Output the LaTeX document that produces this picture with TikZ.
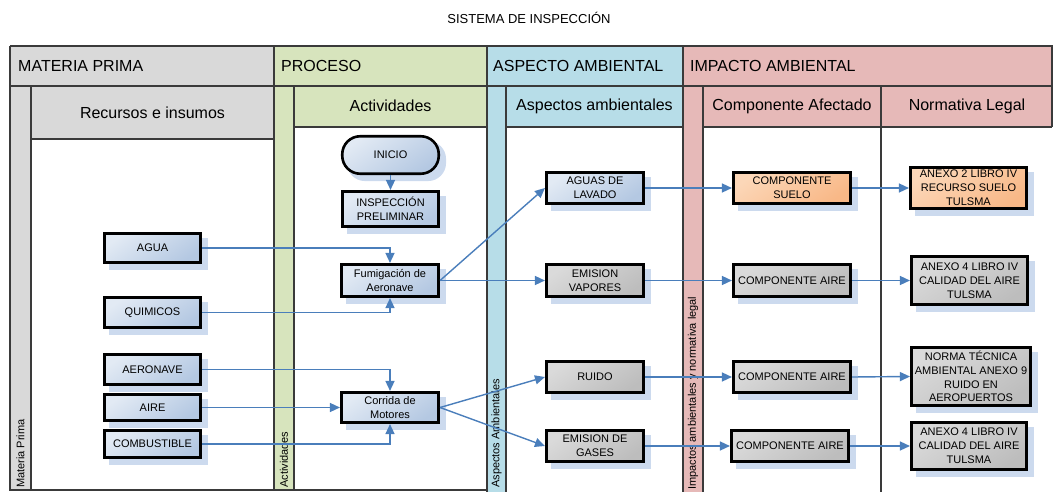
\documentclass[tikz,border=0pt]{standalone}
\usepackage{fontspec}
\setmainfont{Liberation Sans}
\usetikzlibrary{arrows.meta,shadings,calc}
\pgfdeclarelayer{bg}
\pgfdeclarelayer{shad}
\pgfsetlayers{bg,shad,main}
\definecolor{graycol}{HTML}{D9D9D9}
\definecolor{greencol}{HTML}{D7E4BD}
\definecolor{bluecol}{HTML}{B7DDE8}
\definecolor{pinkcol}{HTML}{E6B9B8}
\definecolor{framecol}{HTML}{3A3A3A}
\definecolor{arrowblue}{HTML}{4A7EBB}
\definecolor{shadowcol}{HTML}{CCDAEE}
\definecolor{blueA}{HTML}{E2EAF4}
\definecolor{blueB}{HTML}{B4C8E2}
\definecolor{grayA}{HTML}{DADADA}
\definecolor{grayB}{HTML}{BDBDBD}
\definecolor{orA}{HTML}{FCD7B8}
\definecolor{orB}{HTML}{F8B887}
\newcommand\bxf{\fontsize{11}{13.8}\selectfont}
\newcommand\hdf{\fontsize{16}{18}\selectfont}
\newcommand\slf{\fontsize{11}{13}\selectfont}
\tikzset{
  frame/.style={draw=framecol, line width=1.1pt},
  box/.style={draw=black, line width=2.6pt, align=center, inner sep=1pt, font=\bxf},
  bluebox/.style={box, top color=blueA, bottom color=blueB, shading angle=35},
  graybox/.style={box, top color=grayA, bottom color=grayB, shading angle=35},
  orbox/.style={box, top color=orA, bottom color=orB, shading angle=35},
  sz/.style 2 args={minimum width=#1pt, minimum height=#2pt},
  arr/.style={draw=arrowblue, line width=1.4pt, -{Triangle[length=10pt,width=9pt]}},
  hdr/.style={anchor=west, inner sep=0pt, font=\hdf},
  sub/.style={inner sep=0pt, font=\hdf},
  strip/.style={rotate=90, anchor=west, inner sep=0pt, font=\slf},
  shadowbox/.style={fill=shadowcol}
}
\begin{document}
\begin{tikzpicture}[x=1pt,y=-1pt]
\useasboundingbox (0,0) rectangle (1053,492);
% title
\node[font=\fontsize{13}{15}\selectfont] (title) at (529,18) {SISTEMA DE INSPECCIÓN};
\begin{pgfonlayer}{bg}
% lane fills
\fill[graycol] (10,46) rectangle (274,86);
\fill[graycol] (10,86) rectangle (31,490);
\fill[graycol] (31,86) rectangle (274,139);
\fill[greencol] (274,46) rectangle (487,86);
\fill[greencol] (274,86) rectangle (294,490);
\fill[greencol] (294,86) rectangle (487,127);
\fill[bluecol] (487,46) rectangle (683,86);
\fill[bluecol] (487,86) rectangle (506,492);
\fill[bluecol] (506,86) rectangle (683,127);
\fill[pinkcol] (683,46) rectangle (1053,86);
\fill[pinkcol] (683,86) rectangle (703,492);
\fill[pinkcol] (703,86) rectangle (1053,127);
% lane lines
\draw[frame] (10,46) -- (1052,46) -- (1052,127);
\draw[frame] (10,86) -- (1052,86);
\draw[frame] (10,46) -- (10,490) -- (487,490);
\draw[frame] (274,46) -- (274,490);
\draw[frame] (487,46) -- (487,492);
\draw[frame] (683,46) -- (683,492);
\draw[frame] (31,86) -- (31,490);
\draw[frame] (294,86) -- (294,490);
\draw[frame] (506,86) -- (506,492);
\draw[frame] (703,86) -- (703,492);
\draw[frame] (881,86) -- (881,492);
\draw[frame] (31,139) -- (274,139);
\draw[frame] (294,127) -- (487,127);
\draw[frame] (506,127) -- (683,127);
\draw[frame] (703,127) -- (1052,127);
\end{pgfonlayer}
% headers
\node[hdr] (h1) at (18,66) {MATERIA PRIMA};
\node[hdr] (h2) at (281,66) {PROCESO};
\node[hdr] (h3) at (493,66) {ASPECTO AMBIENTAL};
\node[hdr] (h4) at (690,66) {IMPACTO AMBIENTAL};
\node[sub] (s1) at (152.5,113) {Recursos e insumos};
\node[sub] (s2) at (390.5,106) {Actividades};
\node[sub] (s3) at (594.5,106) {Aspectos ambientales};
\node[sub] (s4) at (792,106) {Componente Afectado};
\node[sub] (s5) at (967,106) {Normativa Legal};
% strip labels
\node[strip] (l1) at (20.5,488) {Materia Prima};
\node[strip] (l2) at (284,488) {Actividades};
\node[strip] (l3) at (496.5,488) {Aspectos Ambientales};
\node[strip] (l4) at (693,490) {Impactos ambientales y normativa legal};
% nodes
\node[bluebox, rounded corners=18pt, sz={96.5}{37.5}] (inicio) at (390.5,155) {INICIO};
\node[bluebox, sz={96.5}{35.5}] (insp) at (390.5,209) {INSPECCIÓN\\PRELIMINAR};
\node[bluebox, sz={96.5}{29.5}] (agua) at (152.5,248) {AGUA};
\node[bluebox, sz={96.5}{30.5}] (quim) at (152.5,312.5) {QUIMICOS};
\node[bluebox, sz={96.5}{30.5}] (aeron) at (152.5,369.5) {AERONAVE};
\node[bluebox, sz={96.5}{26.5}] (aire) at (152.5,407.5) {AIRE};
\node[bluebox, sz={96.5}{27.5}] (comb) at (152.5,444) {COMBUSTIBLE};
\node[bluebox, sz={97.5}{32.5}] (fumig) at (390,280.5) {Fumigación de\\Aeronave};
\node[bluebox, sz={97.5}{30.5}] (corrida) at (390,407.5) {Corrida de\\Motores};
\node[bluebox, sz={97.5}{31.5}] (aguas) at (595,188) {AGUAS DE\\LAVADO};
\node[graybox, sz={97.5}{32.5}] (vapores) at (595,280.5) {EMISION\\VAPORES};
\node[graybox, sz={97.5}{31.5}] (ruido) at (595,377) {RUIDO};
\node[graybox, sz={97.5}{31.5}] (gases) at (595,446) {EMISION DE\\GASES};
\node[orbox, sz={117.5}{31.5}] (suelo) at (792,188) {COMPONENTE\\SUELO};
\node[graybox, sz={117.5}{31.5}] (aire1) at (792,280.5) {COMPONENTE AIRE};
\node[graybox, sz={117.5}{31.5}] (aire2) at (792,377) {COMPONENTE AIRE};
\node[graybox, sz={117.5}{31.5}] (aire3) at (790,446) {COMPONENTE AIRE};
\node[orbox, sz={116.5}{40.5}] (anexo2) at (968.5,188) {ANEXO 2 LIBRO IV\\RECURSO SUELO\\TULSMA};
\node[graybox, sz={116.5}{48.5}] (anexo4a) at (969.5,280.5) {ANEXO 4 LIBRO IV\\CALIDAD DEL AIRE\\TULSMA};
\node[graybox, sz={119.5}{57.5}] (norma) at (971,376.5) {NORMA TÉCNICA\\AMBIENTAL ANEXO 9\\RUIDO EN\\AEROPUERTOS};
\node[graybox, sz={115.5}{46.5}] (anexo4b) at (969,446) {ANEXO 4 LIBRO IV\\CALIDAD DEL AIRE\\TULSMA};
% shadows (offsets in picture units: +x right, +y down)
\begin{pgfonlayer}{shad}
\fill[shadowbox, rounded corners=18pt] ($(inicio.south west)+(6,6)$) rectangle ($(inicio.north east)+(6,6)$);
\foreach \n in {insp,agua,quim,aeron,aire,comb,fumig,corrida,aguas,vapores,ruido,gases,suelo,aire1,aire2,aire3,anexo2,anexo4a,norma,anexo4b}
  \fill[shadowbox] ($(\n.south west)+(6,6)$) rectangle ($(\n.north east)+(6,6)$);
\end{pgfonlayer}
% connectors
\draw[arr] (inicio) -- (insp);
\draw[arr] (agua.east) -| (fumig.north);
\draw[arr] (quim.east) -| (fumig.south);
\draw[arr] (aeron.east) -| (corrida.north);
\draw[arr] (aire.east) -- (corrida.west);
\draw[arr] (comb.east) -| (corrida.south);
\draw[arr] (fumig.east) -- (aguas.west);
\draw[arr] (fumig.east) -- (vapores.west);
\draw[arr] (corrida.east) -- (ruido.west);
\draw[arr] (corrida.east) -- (gases.west);
\draw[arr] (aguas.east) -- (suelo.west);
\draw[arr] (vapores.east) -- (aire1.west);
\draw[arr] (ruido.east) -- (aire2.west);
\draw[arr] (gases.east) -- (aire3.west);
\draw[arr] (suelo.east) -- (anexo2.west);
\draw[arr] (aire1.east) -- (anexo4a.west);
\draw[arr] (aire2.east) -- (norma.west);
\draw[arr] (aire3.east) -- (anexo4b.west);
\end{tikzpicture}
\end{document}
